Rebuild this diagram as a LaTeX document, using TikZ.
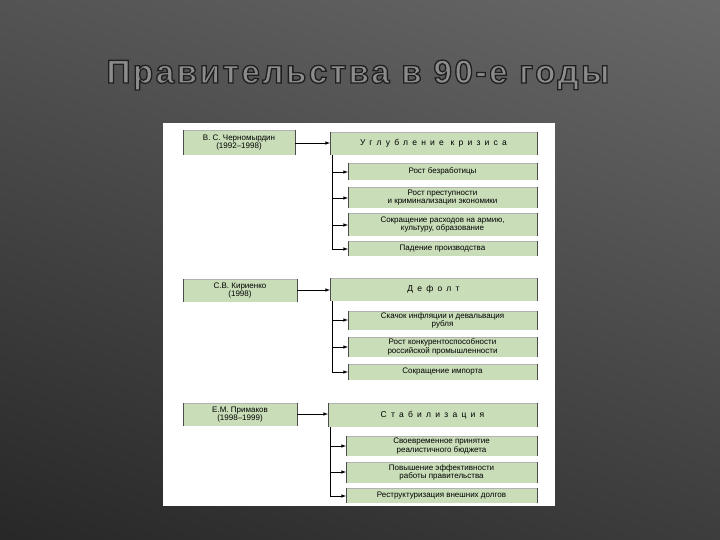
\documentclass[tikz,border=0pt]{standalone}
\usepackage{fontspec}
\setmainfont{Liberation Sans}
\begin{document}
\begin{tikzpicture}[x=1pt,y=-1pt,
  tx/.style={font=\fontsize{8}{8.5}\selectfont,align=center,inner sep=0},
  ar/.style={-latex,line width=0.6pt},
  sp/.style={font=\fontsize{8.5}{9}\selectfont\addfontfeature{LetterSpace=50}}]
\definecolor{boxg}{HTML}{C9DDB9}
\definecolor{bgd}{HTML}{262626}
\definecolor{bgl}{HTML}{6A6A6A}
\definecolor{tg}{HTML}{8C8C8C}
\useasboundingbox (0,0) rectangle (720,540);
\clip (0,0) rectangle (720,540);
\shade[shading=axis,top color=bgl,bottom color=bgd,shading angle=-20] (-100,-100) rectangle (820,640);
% title
\node[text=tg,font=\fontsize{33}{35}\selectfont\bfseries\addfontfeature{LetterSpace=8}] (title) at (358,75)
  {\special{pdf:literal direct 2 Tr 0.12 0.12 0.12 RG 1.3 w}Правительства в 90-е годы\special{pdf:literal direct 0 Tr}};
\fill[white] (163,123) rectangle (555,506);
\newcommand\gbox[5]{%
  \fill[boxg] (#1,#2) rectangle (#3,#4);
  \draw[gray!60,line width=0.4pt] (#1,#2) -- (#3,#2);
  \draw[black!70,line width=1pt] (#1,#2) -- (#1,#4) (#3,#2) -- (#3,#4);
  \node[tx] (#5) at ({(#1+#3)/2},{(#2+#4)/2}) {};}
% group 1
\gbox{183}{130}{295}{155}{l1}
\node[tx] at (l1) {В. С. Черномырдин\\(1992–1998)};
\gbox{330}{132}{537}{155}{r1}
\node[sp] at (r1) {Углубление кризиса};
\gbox{348}{163}{537}{180}{a1}\node[tx] at (a1) {Рост безработицы};
\gbox{348}{187}{537}{208}{a2}\node[tx] at (a2) {Рост преступности\\и криминализации экономики};
\gbox{348}{213}{537}{236}{a3}\node[tx] at (a3) {Сокращение расходов на армию,\\культуру, образование};
\gbox{348}{241}{537}{256}{a4}\node[tx] at (a4) {Падение производства};
\draw[ar] (295,143) -- (330,143);
\draw[line width=0.6pt] (332,155) -- (332,249);
\foreach \y in {172,198,225,249} \draw[ar] (332,\y) -- (348,\y);
% group 2
\gbox{183}{279}{297}{302}{l2}
\node[tx] at (l2) {С.В. Кириенко\\(1998)};
\gbox{330}{278}{537}{301}{r2}
\node[sp] at (r2) {Дефолт};
\gbox{348}{311}{537}{330}{b1}\node[tx] at (b1) {Скачок инфляции и девальвация\\рубля};
\gbox{348}{337}{537}{357}{b2}\node[tx] at (b2) {Рост конкурентоспособности\\российской промышленности};
\gbox{348}{364}{537}{380}{b3}\node[tx] at (b3) {Сокращение импорта};
\draw[ar] (297,290) -- (330,290);
\draw[line width=0.6pt] (332,301) -- (332,372);
\foreach \y in {320,347,372} \draw[ar] (332,\y) -- (348,\y);
% group 3
\gbox{183}{403}{297}{426}{l3}
\node[tx] at (l3) {Е.М. Примаков\\(1998–1999)};
\gbox{328}{403}{537}{427}{r3}
\node[sp] at (r3) {Стабилизация};
\gbox{346}{436}{537}{456}{c1}\node[tx] at (c1) {Своевременное принятие\\реалистичного бюджета};
\gbox{346}{462}{537}{483}{c2}\node[tx] at (c2) {Повышение эффективности\\работы правительства};
\gbox{346}{488}{537}{503}{c3}\node[tx] at (c3) {Реструктуризация внешних долгов};
\draw[ar] (297,414) -- (328,414);
\draw[line width=0.6pt] (330,427) -- (330,496);
\foreach \y in {446,472,496} \draw[ar] (330,\y) -- (346,\y);
\end{tikzpicture}
\end{document}
